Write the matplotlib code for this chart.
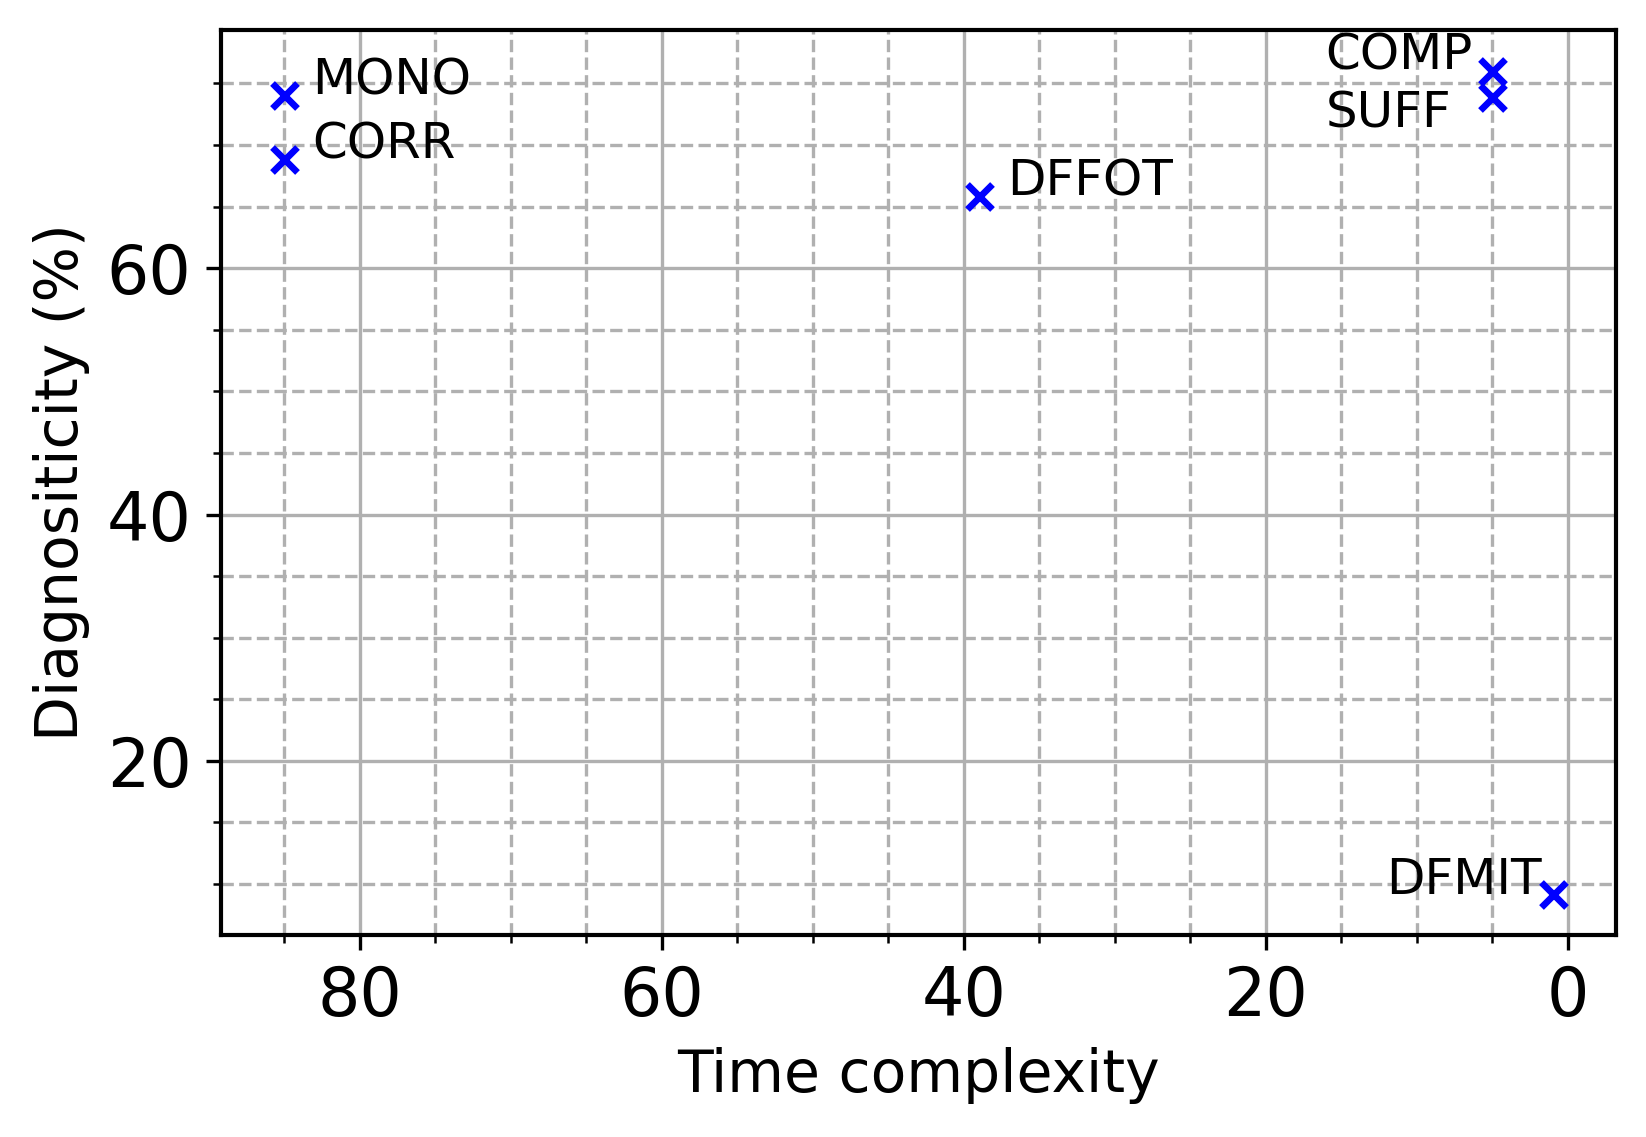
import matplotlib

matplotlib.use("Agg")
import matplotlib.pyplot as plt
from matplotlib.ticker import MultipleLocator

# method name, time complexity, diagnosticity (%)
methods = ["MONO", "CORR", "DFFOT", "COMP", "SUFF", "DFMIT"]
time_complexity = [85, 85, 39, 5, 5, 1]
diagnosticity = [74.1, 68.9, 65.9, 76.0, 73.9, 9.2]

# label offsets in points (layout only)
label_offsets = {
    "MONO": (6.6, 0),
    "CORR": (6.8, 0),
    "DFFOT": (6.7, 0),
    "COMP": (-40, 0.4),
    "SUFF": (-40, -7.4),
    "DFMIT": (-40, 0),
}

fig = plt.figure(figsize=(1646 / 300, 1137 / 300), dpi=300)
ax = fig.add_axes([0.1341, 0.1777, 0.9818 - 0.1341, 0.9736 - 0.1777])

ax.plot(time_complexity, diagnosticity, linestyle="none", marker="x",
        color="blue", markersize=6, markeredgewidth=1.6)

for name, x, y in zip(methods, time_complexity, diagnosticity):
    ax.annotate(name, (x, y), xytext=label_offsets[name],
                textcoords="offset points", ha="left", va="baseline",
                fontsize=12)

ax.invert_xaxis()
ax.xaxis.set_minor_locator(MultipleLocator(5))
ax.yaxis.set_minor_locator(MultipleLocator(5))
ax.grid(which="major", linestyle="-", color="#b0b0b0", linewidth=0.8)
ax.grid(which="minor", linestyle="--", color="#b0b0b0", linewidth=0.8)

ax.tick_params(axis="both", which="major", labelsize=16)
ax.set_xlabel("Time complexity", fontsize=14)
ax.set_ylabel("Diagnositicity (%)", fontsize=14)
for spine in ax.spines.values():
    spine.set_linewidth(1.0)

fig.savefig("out.png", dpi=300)
